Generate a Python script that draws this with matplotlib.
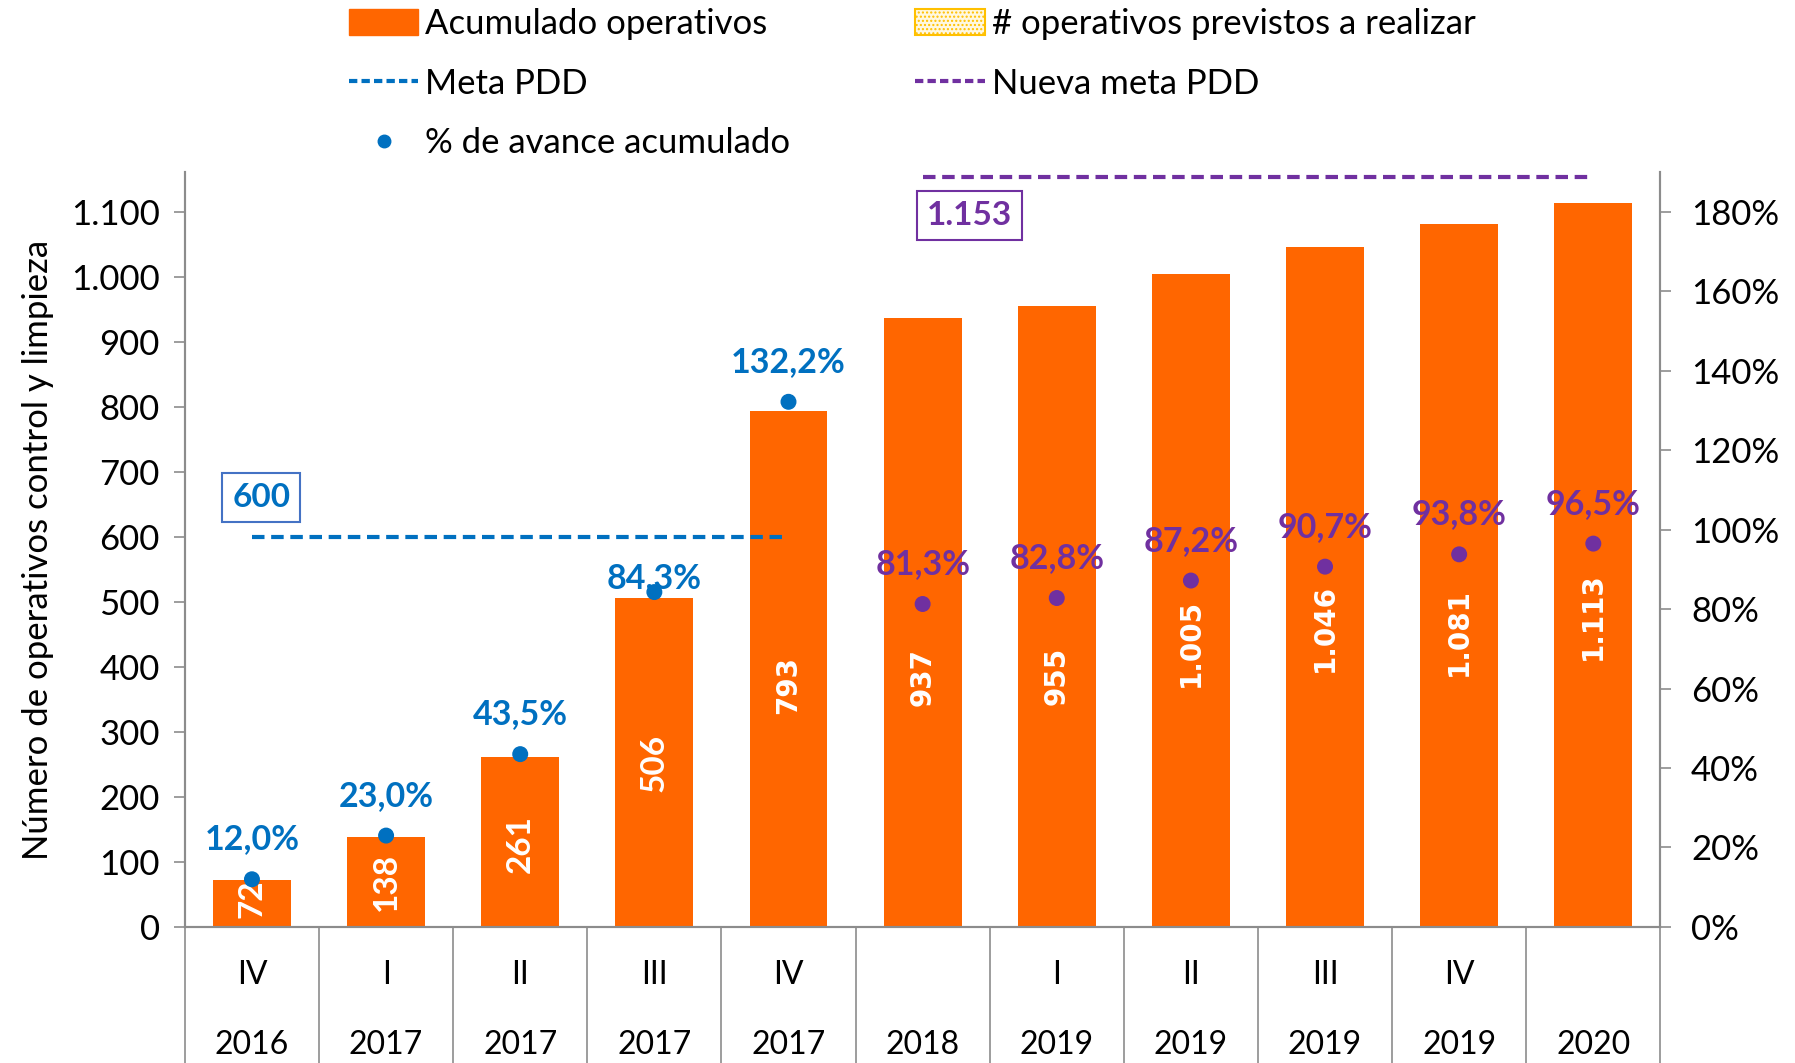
import numpy as np
import matplotlib.pyplot as plt
from matplotlib.patches import Patch
from matplotlib.lines import Line2D

quarters = ["IV", "I", "II", "III", "IV", "", "I", "II", "III", "IV", ""]
years = ["2016", "2017", "2017", "2017", "2017", "2018", "2019", "2019", "2019", "2019", "2020"]
acumulado = [72, 138, 261, 506, 793, 937, 955, 1005, 1046, 1081, 1113]
avance = [12.0, 23.0, 43.5, 84.3, 132.2, 81.3, 82.8, 87.2, 90.7, 93.8, 96.5]
meta_pdd = 600
nueva_meta = 1153

ORANGE = "#FF6600"
BLUE = "#0070C0"
PURPLE = "#7030A0"
GRID = "#8C8C8C"
FONT = "Lato"

plt.rcParams["font.family"] = [FONT, "DejaVu Sans"]
plt.rcParams["hatch.color"] = "#FFC000"

fig = plt.figure(figsize=(17.95, 10.63), dpi=100)
ax = fig.add_axes([0.103, 0.128, 0.822, 0.710])
ax2 = ax.twinx()

x = np.arange(len(acumulado))
ax.bar(x, acumulado, width=0.58, color=ORANGE, zorder=2)

# bar labels (white, rotated); later bars sit a bit below the centre in the original
label_frac = [0.6, 0.5, 0.49, 0.5, 0.47, 0.41, 0.405, 0.435, 0.44, 0.42, 0.43]
for i, v in enumerate(acumulado):
    txt = f"{v:,}".replace(",", ".")
    fam = FONT if i < 4 else "DejaVu Sans"
    fs = 24 if i < 4 else 20
    ax.text(i, v * label_frac[i], txt, rotation=90, ha="center", va="center",
            color="white", fontsize=fs, fontweight="bold", family=fam, zorder=4)

# goal lines
ax.plot(x[:5], [meta_pdd] * 5, color=BLUE, lw=3, ls=(0, (3, 1.6)), zorder=3)
ax.plot(x[5:], [nueva_meta] * 6, color=PURPLE, lw=3, ls=(0, (3, 1.6)), zorder=3)
ax.text(0.07, 660, f"{meta_pdd:,}".replace(",", "."), color=BLUE, fontsize=24,
        fontweight="bold", ha="center", va="center",
        bbox=dict(boxstyle="square,pad=0.3", fc="white", ec="#4472C4", lw=1.5))
ax.text(5.35, 1095, f"{nueva_meta:,}".replace(",", "."), color=PURPLE, fontsize=24,
        fontweight="bold", ha="center", va="center",
        bbox=dict(boxstyle="square,pad=0.3", fc="white", ec=PURPLE, lw=1.5))

ax.set_xlim(-0.5, len(acumulado) - 0.5)
ax.set_ylim(0, 1161)
ax2.set_ylim(0, 1.9)

# percentage points
pct = np.array(avance) / 100
cols = [BLUE] * 5 + [PURPLE] * 6
ax2.scatter(x, pct, s=110, c=cols, zorder=5)
offs = [40, 40, 40, 14, 40, 40, 40, 40, 40, 40, 40]
for i, p in enumerate(avance):
    ax2.annotate(f"{p:.1f}%".replace(".", ","), (i, pct[i]), xytext=(0, offs[i]),
                 textcoords="offset pixels", ha="center", va="center",
                 color=cols[i], fontsize=24.5, fontweight="bold", zorder=6)

# axes styling
ax.set_yticks(range(0, 1101, 100))
ax.set_yticklabels([f"{v:,}".replace(",", ".") for v in range(0, 1101, 100)])
ax2.set_yticks(np.arange(0, 1.81, 0.2))
ax2.set_yticklabels([f"{int(round(v * 100))}%" for v in np.arange(0, 1.81, 0.2)])
for a in (ax, ax2):
    a.tick_params(axis="y", labelsize=25, length=8, width=1.2, color=GRID, pad=10)
    a.spines["top"].set_visible(False)
    for s in ("left", "right", "bottom"):
        a.spines[s].set_color(GRID)
        a.spines[s].set_linewidth(1.5)
ax2.tick_params(axis="y", pad=14)
ax.set_xticks([])
ax2.set_xticks([])
ax.set_ylabel("Número de operativos control y limpieza", fontsize=25, labelpad=12)

# multi-level category axis
xt = ax.get_xaxis_transform()
for b in np.arange(-0.5, len(acumulado), 1.0):
    ax.plot([b, b], [0, -0.2], transform=xt, color=GRID, lw=1.2, clip_on=False)
for i in range(len(acumulado)):
    ax.text(i, -0.064, quarters[i], transform=xt, ha="center", va="center", fontsize=23)
    ax.text(i, -0.156, years[i], transform=xt, ha="center", va="center", fontsize=23)

# legend
handles = [
    Patch(fc=ORANGE, ec=ORANGE),
    Line2D([], [], color=BLUE, lw=3, ls=(0, (2, 1))),
    Line2D([], [], color=BLUE, marker="o", ls="none", markersize=9),
    Patch(fc="#FFF8E1", ec="#FFC000", hatch="....", lw=1.5),
    Line2D([], [], color=PURPLE, lw=3, ls=(0, (2, 1))),
]
labels = ["Acumulado operativos", "Meta PDD", "% de avance acumulado",
          "# operativos previstos a realizar", "Nueva meta PDD"]
fig.legend(handles, labels, ncol=2, loc="upper left", bbox_to_anchor=(0.177, 1.022),
           frameon=False, fontsize=25, handlelength=2.0, handleheight=0.8,
           handletextpad=0.2, columnspacing=3.6, labelspacing=0.8)

fig.savefig("out.png", dpi=100)
